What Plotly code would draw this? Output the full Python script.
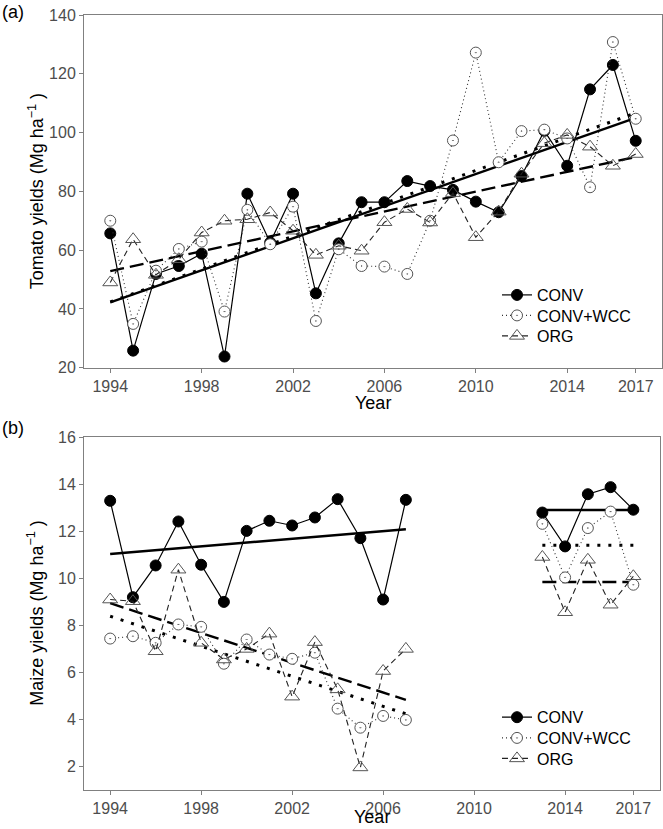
import numpy as np
import plotly.graph_objects as go

# ---------------- data ----------------
years_a = list(range(1994, 2018))
conv_a = [65.7, 25.8, 51.9, 54.6, 58.8, 23.8, 79.2, 62.6, 79.2, 45.3, 62.3, 76.3,
          76.3, 83.5, 81.8, 80.5, 76.5, 72.9, 85.2, 100.6, 88.7, 114.7, 123.0, 97.2]
wcc_a = [70.0, 34.9, 53.0, 60.4, 62.9, 39.1, 73.7, 62.0, 74.8, 35.9, 60.3, 54.6,
         54.4, 51.9, 70.0, 97.3, 127.2, 89.9, 100.5, 101.0, 98.0, 81.4, 130.8, 104.7]
org_a = [49.0, 63.7, 51.6, 56.9, 66.0, 70.0, 70.5, 72.8, 66.6, 58.4, 61.5, 59.8,
         69.5, 74.0, 69.4, 79.4, 64.4, 73.1, 86.0, 96.4, 99.2, 95.2, 88.7, 92.7]

years_b1 = list(range(1994, 2008))
years_b2 = list(range(2013, 2018))
conv_b1 = [13.30, 9.20, 10.55, 12.42, 10.58, 9.00, 12.02, 12.45, 12.25, 12.59, 13.37, 11.71, 9.10, 13.34]
wcc_b1 = [7.44, 7.54, 7.26, 8.04, 7.94, 6.37, 7.40, 6.76, 6.58, 6.84, 4.46, 3.65, 4.15, 3.98]
org_b1 = [9.10, 9.03, 6.90, 10.37, 7.26, 6.55, 7.00, 7.65, 4.97, 7.29, 5.28, 1.96, 6.06, 7.00]
conv_b2 = [12.80, 11.36, 13.58, 13.88, 12.92]
wcc_b2 = [12.32, 10.04, 12.14, 12.84, 9.73]
org_b2 = [10.91, 8.56, 10.79, 8.88, 10.09]

x_ticks = [1994, 1998, 2002, 2006, 2010, 2014, 2017]
ya_ticks = [20, 40, 60, 80, 100, 120, 140]
yb_ticks = [2, 4, 6, 8, 10, 12, 14, 16]
names = ["CONV", "CONV+WCC", "ORG"]

# ---------------- styles ----------------
FONT = "Liberation Sans, Arial, Helvetica, sans-serif"
GREY = "#555555"
styles = {
    "CONV": dict(marker=dict(symbol="circle", size=11, color="black",
                             line=dict(color="black", width=1)),
                 line=dict(color="black", width=1.2, dash="solid"),
                 tline=dict(color="black", width=2.4, dash="solid")),
    "CONV+WCC": dict(marker=dict(symbol="circle-dot", size=11, color="white",
                                 line=dict(color=GREY, width=1)),
                     line=dict(color="#333333", width=1.1, dash="1px,3px"),
                     tline=dict(color="black", width=3, dash="3px,8px")),
    "ORG": dict(marker=dict(symbol="triangle-up-open", size=13, color=GREY,
                            line=dict(color=GREY, width=1)),
                line=dict(color="#222222", width=1.1, dash="6px,4px"),
                tline=dict(color="black", width=2.4, dash="14px,6px")),
}

W, H = 663, 829
ML, MR, MT, MB = 84, 1, 15, 39
PW, PH = W - ML - MR, H - MT - MB


def py(pix):  # pixel y (from top) -> paper y
    return (H - MB - pix) / PH


def px(pix):
    return (pix - ML) / PW


fig = go.Figure()


def add_series(name, xs, ys, xaxis, yaxis, legend):
    st = styles[name]
    fig.add_trace(go.Scatter(x=xs, y=ys, mode="lines+markers", name=name,
                             marker=st["marker"], line=st["line"],
                             connectgaps=False, xaxis=xaxis, yaxis=yaxis,
                             legend=legend, showlegend=True))


def add_trend(name, xs, ys, xaxis, yaxis, flat=False):
    st = styles[name]
    xs = np.array(xs, dtype=float)
    ys = np.array(ys, dtype=float)
    if flat:
        fx = [xs[0], xs[-1]]
        fy = [ys.mean(), ys.mean()]
    else:
        k, b = np.polyfit(xs, ys, 1)
        fx = [xs[0], xs[-1]]
        fy = [k * xs[0] + b, k * xs[-1] + b]
    fig.add_trace(go.Scatter(x=fx, y=fy, mode="lines", line=st["tline"],
                             xaxis=xaxis, yaxis=yaxis, showlegend=False,
                             hoverinfo="skip"))


# one legend per entry, so that entry spacing can match the reference
leg_a = ["legend", "legend2", "legend3"]
leg_b = ["legend4", "legend5", "legend6"]

# panel (a)
for nm, ys in zip(names, [conv_a, wcc_a, org_a]):
    add_trend(nm, years_a, ys, "x", "y")
for nm, ys, lg in zip(names, [conv_a, wcc_a, org_a], leg_a):
    add_series(nm, years_a, ys, "x", "y", lg)

# panel (b)
for nm, y1, y2 in zip(names, [conv_b1, wcc_b1, org_b1], [conv_b2, wcc_b2, org_b2]):
    add_trend(nm, years_b1, y1, "x2", "y2")
    add_trend(nm, years_b2, y2, "x2", "y2", flat=True)
for nm, y1, y2, lg in zip(names, [conv_b1, wcc_b1, org_b1], [conv_b2, wcc_b2, org_b2], leg_b):
    add_series(nm, years_b1 + [None] + years_b2, y1 + [None] + y2, "x2", "y2", lg)

axis_common = dict(showgrid=False, zeroline=False, showline=True, mirror=True,
                   linecolor="#808080", linewidth=1, ticks="outside", ticklen=4,
                   tickwidth=1, tickcolor="#808080", automargin=False,
                   tickfont=dict(family=FONT, size=16, color="#4d4d4d"))

fig.update_layout(
    width=W, height=H,
    margin=dict(l=ML, r=MR, t=MT, b=MB, autoexpand=False),
    paper_bgcolor="white", plot_bgcolor="white",
    font=dict(family=FONT),
    xaxis=dict(domain=[0, 1], range=[1992.85, 2018.15], tickvals=x_ticks,
               anchor="y", **axis_common),
    yaxis=dict(domain=[py(367.7), 1], range=[20, 140], tickvals=ya_ticks,
               anchor="x", **axis_common),
    xaxis2=dict(domain=[0, px(659.5)], range=[1992.85, 2018.15], tickvals=x_ticks,
                anchor="y2", **axis_common),
    yaxis2=dict(domain=[0, py(437.3)], range=[1, 16], tickvals=yb_ticks,
                anchor="x2", **axis_common),
)

leg_font = dict(family=FONT, size=16, color="black")
centers_a = [295, 315.5, 336]
centers_b = [717.3, 738, 758.5]
legend_layout = {}
for lg, cy in zip(leg_a, centers_a):
    legend_layout[lg] = dict(x=px(497), y=py(cy), xanchor="left", yanchor="middle",
                             bgcolor="rgba(0,0,0,0)", font=leg_font, itemwidth=30)
for lg, cy in zip(leg_b, centers_b):
    legend_layout[lg] = dict(x=px(497), y=py(cy), xanchor="left", yanchor="middle",
                             bgcolor="rgba(0,0,0,0)", font=leg_font, itemwidth=30)
fig.update_layout(**legend_layout)

ann_font = dict(family=FONT, size=18, color="black")
annotations = [
    dict(text="(a)", x=0, y=1, xref="paper", yref="paper", xanchor="left",
         yanchor="top", xshift=-ML, yshift=MT, showarrow=False, font=ann_font),
    dict(text="(b)", x=0, y=py(428), xref="paper", yref="paper", xanchor="left",
         yanchor="middle", xshift=-ML, showarrow=False, font=ann_font),
    dict(text="Year", x=0.5, y=py(403), xref="paper", yref="paper", xanchor="center",
         yanchor="middle", showarrow=False, font=ann_font),
    dict(text="Year", x=px((84 + 659.5) / 2), y=0, xref="paper", yref="paper",
         xanchor="center", yanchor="bottom", yshift=-MB, showarrow=False,
         font=ann_font),
    dict(text="Tomato yields (Mg ha<sup>−1</sup> )", x=0, y=py((15 + 367.7) / 2),
         xref="paper", yref="paper", xanchor="center", yanchor="middle",
         xshift=-(ML - 36), textangle=-90, showarrow=False, font=ann_font),
    dict(text="Maize yields (Mg ha<sup>−1</sup> )", x=0, y=py((437.3 + 790) / 2),
         xref="paper", yref="paper", xanchor="center", yanchor="middle",
         xshift=-(ML - 36), textangle=-90, showarrow=False, font=ann_font),
]
fig.update_layout(annotations=annotations)

fig.write_html("out.html", config={"displayModeBar": False},
               post_script="document.body.style.margin='0';document.body.style.overflow='hidden';")
